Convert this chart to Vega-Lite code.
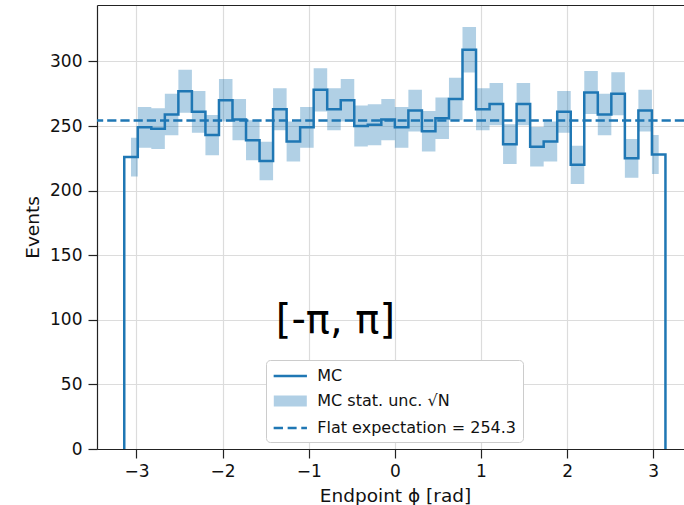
{
  "$schema": "https://vega.github.io/schema/vega-lite/v6.json",
  "width": 587,
  "height": 444,
  "autosize": {"type": "none"},
  "padding": {"left": 97, "top": 5, "right": 0, "bottom": 56},
  "background": "white",
  "config": {
    "view": {"stroke": null},
    "font": "DejaVu Sans",
    "axis": {
      "domainColor": "#222222", "domainWidth": 1.2,
      "tickColor": "#222222", "tickWidth": 1.2, "tickSize": 9,
      "labelFont": "DejaVu Sans", "labelFontSize": 17, "labelColor": "#111111",
      "titleFont": "DejaVu Sans", "titleFontSize": 18.5, "titleFontWeight": "normal", "titleColor": "#111111",
      "gridColor": "#dcdcdc", "gridWidth": 1.2
    },
    "legend": {
      "labelFont": "DejaVu Sans", "labelFontSize": 16, "labelColor": "#111111", "labelLimit": 400,
      "fillColor": "white", "strokeColor": "#cccccc", "strokeWidth": 1, "cornerRadius": 4,
      "padding": 6
    }
  },
  "datasets": {
    "band": [
      {"x": -3.0631, "lo": 210.97, "hi": 241.03},
      {"x": -2.9845, "lo": 233.22, "hi": 264.78},
      {"x": -2.8274, "lo": 232.25, "hi": 263.75},
      {"x": -2.6704, "lo": 242.91, "hi": 275.09},
      {"x": -2.5133, "lo": 260.36, "hi": 293.64},
      {"x": -2.3562, "lo": 244.84, "hi": 277.16},
      {"x": -2.1991, "lo": 227.41, "hi": 258.59},
      {"x": -2.0420, "lo": 253.57, "hi": 286.43},
      {"x": -1.8850, "lo": 239.03, "hi": 270.97},
      {"x": -1.7279, "lo": 223.54, "hi": 254.46},
      {"x": -1.5708, "lo": 208.07, "hi": 237.93},
      {"x": -1.4137, "lo": 246.78, "hi": 279.22},
      {"x": -1.2566, "lo": 222.57, "hi": 253.43},
      {"x": -1.0996, "lo": 233.22, "hi": 264.78},
      {"x": -0.9425, "lo": 261.33, "hi": 294.67},
      {"x": -0.7854, "lo": 246.78, "hi": 279.22},
      {"x": -0.6283, "lo": 253.57, "hi": 286.43},
      {"x": -0.4712, "lo": 234.19, "hi": 265.81},
      {"x": -0.3142, "lo": 235.16, "hi": 266.84},
      {"x": -0.1571, "lo": 239.03, "hi": 270.97},
      {"x": 0.0, "lo": 233.22, "hi": 264.78},
      {"x": 0.1571, "lo": 245.81, "hi": 278.19},
      {"x": 0.3142, "lo": 230.32, "hi": 261.68},
      {"x": 0.4712, "lo": 240.0, "hi": 272.0},
      {"x": 0.6283, "lo": 254.54, "hi": 287.46},
      {"x": 0.7854, "lo": 291.42, "hi": 326.58},
      {"x": 0.9425, "lo": 246.78, "hi": 279.22},
      {"x": 1.0996, "lo": 250.66, "hi": 283.34},
      {"x": 1.2566, "lo": 220.64, "hi": 251.36},
      {"x": 1.4137, "lo": 250.66, "hi": 283.34},
      {"x": 1.5708, "lo": 218.70, "hi": 249.30},
      {"x": 1.7279, "lo": 222.57, "hi": 253.43},
      {"x": 1.8850, "lo": 244.84, "hi": 277.16},
      {"x": 2.0420, "lo": 205.17, "hi": 234.83},
      {"x": 2.1991, "lo": 259.39, "hi": 292.61},
      {"x": 2.3562, "lo": 242.91, "hi": 275.09},
      {"x": 2.5133, "lo": 258.42, "hi": 291.58},
      {"x": 2.6704, "lo": 210.0, "hi": 240.0},
      {"x": 2.8274, "lo": 245.81, "hi": 278.19},
      {"x": 2.9845, "lo": 212.90, "hi": 243.10},
      {"x": 3.0631, "lo": 212.90, "hi": 243.10}
    ],
    "step": [
      {"i": 0, "x": -3.1416, "n": 0},
      {"i": 1, "x": -3.1416, "n": 226},
      {"i": 2, "x": -2.9845, "n": 249},
      {"i": 3, "x": -2.8274, "n": 248},
      {"i": 4, "x": -2.6704, "n": 259},
      {"i": 5, "x": -2.5133, "n": 277},
      {"i": 6, "x": -2.3562, "n": 261},
      {"i": 7, "x": -2.1991, "n": 243},
      {"i": 8, "x": -2.0420, "n": 270},
      {"i": 9, "x": -1.8850, "n": 255},
      {"i": 10, "x": -1.7279, "n": 239},
      {"i": 11, "x": -1.5708, "n": 223},
      {"i": 12, "x": -1.4137, "n": 263},
      {"i": 13, "x": -1.2566, "n": 238},
      {"i": 14, "x": -1.0996, "n": 249},
      {"i": 15, "x": -0.9425, "n": 278},
      {"i": 16, "x": -0.7854, "n": 263},
      {"i": 17, "x": -0.6283, "n": 270},
      {"i": 18, "x": -0.4712, "n": 250},
      {"i": 19, "x": -0.3142, "n": 251},
      {"i": 20, "x": -0.1571, "n": 255},
      {"i": 21, "x": 0.0, "n": 249},
      {"i": 22, "x": 0.1571, "n": 262},
      {"i": 23, "x": 0.3142, "n": 246},
      {"i": 24, "x": 0.4712, "n": 256},
      {"i": 25, "x": 0.6283, "n": 271},
      {"i": 26, "x": 0.7854, "n": 309},
      {"i": 27, "x": 0.9425, "n": 263},
      {"i": 28, "x": 1.0996, "n": 267},
      {"i": 29, "x": 1.2566, "n": 236},
      {"i": 30, "x": 1.4137, "n": 267},
      {"i": 31, "x": 1.5708, "n": 234},
      {"i": 32, "x": 1.7279, "n": 238},
      {"i": 33, "x": 1.8850, "n": 261},
      {"i": 34, "x": 2.0420, "n": 220},
      {"i": 35, "x": 2.1991, "n": 276},
      {"i": 36, "x": 2.3562, "n": 259},
      {"i": 37, "x": 2.5133, "n": 275},
      {"i": 38, "x": 2.6704, "n": 225},
      {"i": 39, "x": 2.8274, "n": 262},
      {"i": 40, "x": 2.9845, "n": 228},
      {"i": 41, "x": 3.1416, "n": 228},
      {"i": 42, "x": 3.1416, "n": 0}
    ],
    "flat": [{"v": 254.3}],
    "note": [{"label": "[-π, π]", "x": -0.69, "y": 99}],
    "series": [
      {"s": "MC"},
      {"s": "MC stat. unc. √N"},
      {"s": "Flat expectation = 254.3"}
    ]
  },
  "layer": [
    {
      "data": {"name": "band"},
      "mark": {"type": "area", "interpolate": "step-after", "color": "#1f77b4", "opacity": 0.35},
      "encoding": {
        "x": {
          "field": "x", "type": "quantitative",
          "scale": {"domain": [-3.458, 3.357], "nice": false, "zero": false},
          "axis": {
            "orient": "bottom", "values": [-3, -2, -1, 0, 1, 2, 3], "grid": true,
            "labelPadding": 5, "title": "Endpoint ϕ [rad]",
            "titleX": 298, "titleY": 52, "titleBaseline": "alphabetic", "titleAnchor": "middle", "titleAlign": "center"
          }
        },
        "y": {
          "field": "hi", "type": "quantitative",
          "scale": {"domain": [0, 343.7], "nice": false},
          "axis": {
            "values": [0, 50, 100, 150, 200, 250, 300], "grid": true,
            "labelPadding": 6, "title": "Events", "titlePadding": 7
          }
        },
        "y2": {"field": "lo"}
      }
    },
    {
      "data": {"name": "step"},
      "mark": {"type": "line", "interpolate": "step-after", "color": "#1f77b4", "strokeWidth": 2.5, "strokeJoin": "miter"},
      "encoding": {
        "x": {
          "field": "x", "type": "quantitative",
          "axis": {"orient": "top", "labels": false, "ticks": false, "grid": false, "domain": true, "title": null}
        },
        "y": {"field": "n", "type": "quantitative"},
        "order": {"field": "i", "type": "quantitative"}
      }
    },
    {
      "data": {"name": "flat"},
      "mark": {"type": "rule", "color": "#1f77b4", "strokeWidth": 2.5, "strokeDash": [9.2, 4]},
      "encoding": {
        "y": {"field": "v", "type": "quantitative"}
      }
    },
    {
      "data": {"name": "note"},
      "mark": {"type": "text", "font": "DejaVu Sans", "fontSize": 40, "color": "#000000", "align": "center", "baseline": "middle"},
      "encoding": {
        "x": {"field": "x", "type": "quantitative", "axis": null},
        "y": {"field": "y", "type": "quantitative"},
        "text": {"field": "label"}
      }
    },
    {
      "data": {"name": "series"},
      "transform": [{"filter": "false"}],
      "mark": {"type": "point", "strokeWidth": 2.5, "size": 277, "opacity": 1},
      "encoding": {
        "shape": {
          "field": "s", "type": "nominal",
          "scale": {
            "domain": ["MC", "MC stat. unc. √N", "Flat expectation = 254.3"],
            "range": ["M-2,0H2", "M-1.833,-0.511H1.833V0.511H-1.833Z", "M-2,0H-0.88M-0.32,0H0.76M1.32,0H2"]
          },
          "legend": {
            "orient": "none", "legendX": 169, "legendY": 355, "title": null,
            "symbolSize": 277, "symbolStrokeWidth": 2.5, "symbolOffset": 8.3, "labelOffset": 17, "rowPadding": 7
          }
        },
        "stroke": {
          "field": "s", "type": "nominal",
          "scale": {
            "domain": ["MC", "MC stat. unc. √N", "Flat expectation = 254.3"],
            "range": ["#1f77b4", "#b0cfe5", "#1f77b4"]
          },
          "legend": {
            "orient": "none", "legendX": 169, "legendY": 355, "title": null,
            "symbolSize": 277, "symbolStrokeWidth": 2.5, "symbolOffset": 8.3, "labelOffset": 17, "rowPadding": 7
          }
        },
        "fill": {
          "field": "s", "type": "nominal",
          "scale": {
            "domain": ["MC", "MC stat. unc. √N", "Flat expectation = 254.3"],
            "range": ["transparent", "#b0cfe5", "transparent"]
          },
          "legend": {
            "orient": "none", "legendX": 169, "legendY": 355, "title": null,
            "symbolSize": 277, "symbolStrokeWidth": 2.5, "symbolOffset": 8.3, "labelOffset": 17, "rowPadding": 7
          }
        }
      }
    }
  ],
  "resolve": {"axis": {"x": "independent"}}
}
